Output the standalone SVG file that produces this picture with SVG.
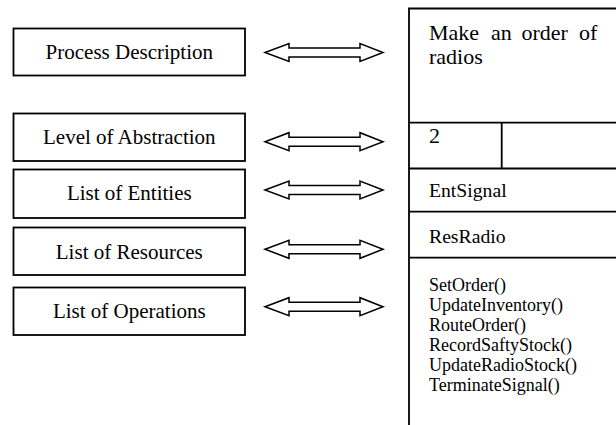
<svg xmlns="http://www.w3.org/2000/svg" xmlns:xlink="http://www.w3.org/1999/xlink" width="616" height="425" viewBox="0 0 616 425">
  <style>
    .box { fill: #ffffff; stroke: #000000; stroke-width: 1.8; }
    .rule { fill: none; stroke: #000000; stroke-width: 1.8; }
    .label { font-family: "Liberation Serif", "Times New Roman", serif; font-size: 21px; fill: #000000; text-anchor: middle; }
    .cell { font-family: "Liberation Serif", "Times New Roman", serif; font-size: 19.7px; fill: #000000; }
    .ops { font-family: "Liberation Serif", "Times New Roman", serif; font-size: 18px; fill: #000000; }
    .title { font-family: "Liberation Serif", "Times New Roman", serif; font-size: 22px; fill: #000000; }
    .dblarrow { fill: #ffffff; stroke: #000000; stroke-width: 1.5; stroke-linejoin: miter; }
  </style>
  <defs>
    <!-- hollow double-headed block arrow, centred on y = 0 -->
    <path id="dbl" d="M265,0 L289,-9 L289,-4.5 L360,-4.5 L360,-9 L383,0 L360,9 L360,4.5 L289,4.5 L289,9 Z"/>
  </defs>
  <rect width="616" height="425" fill="#ffffff"/>

  <!-- left column: concept boxes -->
  <g id="process-description">
    <rect class="box" x="13.5" y="28.5" width="231.5" height="47"/>
    <text class="label" x="129.3" y="59">Process Description</text>
  </g>
  <g id="level-of-abstraction">
    <rect class="box" x="13.5" y="113.5" width="231.5" height="47.5"/>
    <text class="label" x="129.3" y="143.5">Level of Abstraction</text>
  </g>
  <g id="list-of-entities">
    <rect class="box" x="13.5" y="169.5" width="231.5" height="48.5"/>
    <text class="label" x="129.3" y="199.5">List of Entities</text>
  </g>
  <g id="list-of-resources">
    <rect class="box" x="13.5" y="227.5" width="231.5" height="47.5"/>
    <text class="label" x="129.3" y="258.5">List of Resources</text>
  </g>
  <g id="list-of-operations">
    <rect class="box" x="13.5" y="287.5" width="231.5" height="47.5"/>
    <text class="label" x="129.3" y="317.5">List of Operations</text>
  </g>

  <!-- connectors -->
  <g id="connectors">
    <use xlink:href="#dbl" class="dblarrow" transform="translate(0,52.5)"/>
    <use xlink:href="#dbl" class="dblarrow" transform="translate(0,141.7)"/>
    <use xlink:href="#dbl" class="dblarrow" transform="translate(0,190)"/>
    <use xlink:href="#dbl" class="dblarrow" transform="translate(0,249.3)"/>
    <use xlink:href="#dbl" class="dblarrow" transform="translate(0,306.7)"/>
  </g>

  <!-- right column: process record -->
  <g id="record-frame">
    <path class="rule" d="M409,425 L409,8.5 L616,8.5"/>
  </g>
  <g id="record-description">
    <text class="title" y="40"><tspan x="429">Make</tspan><tspan x="491">an</tspan><tspan x="521.5">order</tspan><tspan x="579">of</tspan></text>
    <text class="title" x="429" y="64">radios</text>
  </g>
  <g id="record-level">
    <path class="rule" d="M409,122.7 L616,122.7 M501.7,122.7 L501.7,168.5"/>
    <text class="title" x="429" y="143.3">2</text>
  </g>
  <g id="record-entities">
    <path class="rule" d="M409,168.5 L616,168.5"/>
    <text class="cell" x="429" y="196.7">EntSignal</text>
  </g>
  <g id="record-resources">
    <path class="rule" d="M409,211.7 L616,211.7"/>
    <text class="cell" x="429" y="243">ResRadio</text>
  </g>
  <g id="record-operations">
    <path class="rule" d="M409,257.7 L616,257.7"/>
    <text class="ops" x="429" y="291">SetOrder()</text>
    <text class="ops" x="429" y="311">UpdateInventory()</text>
    <text class="ops" x="429" y="331">RouteOrder()</text>
    <text class="ops" x="429" y="351">RecordSaftyStock()</text>
    <text class="ops" x="429" y="371">UpdateRadioStock()</text>
    <text class="ops" x="429" y="391">TerminateSignal()</text>
  </g>
</svg>
